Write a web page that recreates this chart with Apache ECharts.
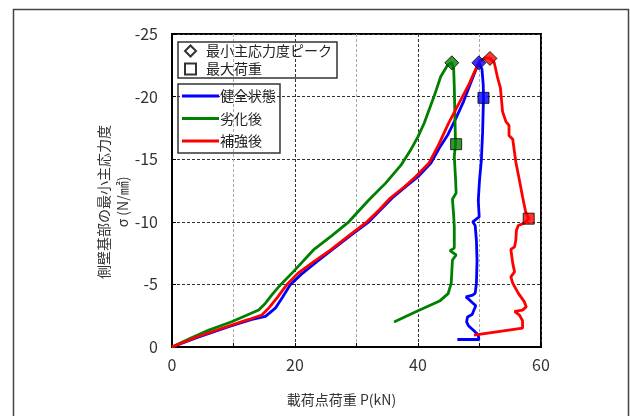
<!DOCTYPE html>
<html>
<head>
<meta charset="utf-8">
<script src="https://cdn.jsdelivr.net/npm/echarts@6/dist/echarts.min.js"></script>
<style>
html,body{margin:0;padding:0;background:#fff;}
#chart{width:630px;height:416px;}
</style>
</head>
<body>
<div id="chart"></div>
<script>
// ---- data (P [kN], σ [N/mm²]) ----
var xTicks = [0, 20, 40, 60];
var yTicks = [-25, -20, -15, -10, -5, 0];

var seriesNames = ['健全状態', '劣化後', '補強後'];
var markerNames = ['最小主応力度ピーク', '最大荷重'];

var blueRise = [[0,0],[4,-0.75],[9.7,-1.7],[13,-2.2],[15.2,-2.45],[16.8,-3.1],[18,-4.0],[19.2,-4.95],[21,-5.8],[23.5,-6.8],[26,-7.75],[29,-8.9],[32,-10.0],[34,-11.0],[35.8,-11.9],[38,-12.8],[40,-13.6],[42.1,-14.7],[43.6,-16.0],[44.9,-17.0],[46.2,-18.3],[47.4,-19.6],[48.5,-21.0],[49.3,-22.0],[49.9,-22.7]];
var blueFall = [[50.4,-22.2],[50.6,-21.0],[50.65,-19.9],[50.5,-17.1],[50.3,-14.9],[50.0,-13.3],[49.8,-11.7],[49.95,-10.4],[48.9,-10.0],[49.3,-9.7],[49.5,-8.5],[49.6,-6.9],[49.5,-5.1],[49.3,-4.3],[48.9,-4.15],[47.8,-4.0],[48.5,-3.7],[49.4,-3.3],[49.1,-2.96],[48.8,-2.6],[48.05,-2.4],[47.9,-2.0],[48.2,-1.7],[49.1,-1.3],[49.8,-0.95],[49.9,-0.6],[46.4,-0.6]];

var greenRise = [[0,0],[3,-0.7],[6,-1.35],[9.7,-2.02],[14.1,-2.96],[15.2,-3.5],[16.3,-4.2],[17.7,-5.0],[19.7,-6.0],[23,-7.75],[26,-8.9],[28.75,-10.0],[32,-11.74],[34.7,-13.07],[37.2,-14.5],[38.8,-15.73],[40,-16.8],[41,-17.87],[42.6,-20.0],[43.7,-21.6],[44.8,-22.5],[45.5,-22.7]];
var greenFall = [[45.8,-22.2],[45.9,-20.8],[46.0,-18.5],[46.1,-16.2],[45.9,-15.2],[46.1,-13.5],[46.2,-12.3],[45.6,-11.8],[45.8,-10.5],[45.9,-9.6],[45.9,-7.9],[45.2,-7.7],[46.2,-7.35],[45.6,-6.95],[45.4,-5.1],[44.9,-4.26],[43.6,-3.7],[40,-2.9],[36.1,-2.0]];

var redRise = [[0,0],[4,-0.8],[9.7,-1.76],[12.5,-2.2],[14.6,-2.56],[15.7,-3.09],[17.2,-4.0],[18.7,-5.0],[20.5,-5.9],[23,-6.8],[25.8,-7.75],[28.5,-8.8],[31.7,-10.0],[33.8,-11.0],[35.5,-11.9],[37.8,-12.8],[39.6,-13.6],[41.8,-14.7],[43.3,-16.1],[45.0,-17.9],[46.7,-19.5],[48.3,-21.0],[49.2,-22.0],[50.0,-22.8],[51.0,-23.1],[51.7,-23.05]];
var redFall = [[52.4,-22.7],[52.9,-21.6],[53.4,-20.7],[53.75,-18.8],[54.3,-18.0],[54.8,-17.7],[54.8,-16.9],[55.4,-16.6],[55.9,-14.8],[56.5,-13.3],[57.0,-12.0],[57.5,-10.8],[58.0,-10.25],[57.3,-9.9],[56.3,-9.7],[56.0,-9.3],[55.9,-8.5],[55.7,-8.0],[55.1,-7.8],[55.4,-6.7],[55.7,-6.0],[55.1,-5.6],[55.4,-5.1],[56.3,-4.3],[57.3,-3.6],[57.6,-3.2],[57.0,-2.95],[55.7,-2.85],[56.5,-2.55],[57.0,-2.1],[57.0,-1.5],[56.7,-1.45],[49.1,-0.95]];

var peakPoints = [[49.9,-22.7],[45.5,-22.7],[51.7,-23.05]];
var maxLoadPoints = [[50.65,-19.9],[46.2,-16.2],[58.0,-10.25]];
var colors = ['#0000ff', '#008000', '#ff0000'];

// ---- chart ----
var chart = echarts.init(document.getElementById('chart'));
var tickFont = "'Liberation Sans Narrow', 'Noto Sans CJK JP', sans-serif";
var jpFont = "'Noto Sans CJK JP', sans-serif";

function markerData(points) {
  return points.map(function (p, i) {
    return { value: p, itemStyle: { color: colors[i], borderColor: '#000', borderWidth: 1 } };
  });
}

var option = {
  animation: false,
  backgroundColor: '#fff',
  graphic: [{
    type: 'rect',
    shape: { x: 13.5, y: 9.5, width: 615, height: 430 },
    style: { fill: 'none', stroke: '#444', lineWidth: 1.5 },
    silent: true
  }],
  grid: {
    left: 172, top: 34, width: 369, height: 313,
    show: true, borderColor: '#000', borderWidth: 2, backgroundColor: 'transparent'
  },
  legend: [{
    left: 178, top: 42,
    orient: 'vertical',
    data: [{ name: markerNames[0], icon: 'diamond' }, { name: markerNames[1], icon: 'rect' }],
    itemWidth: 11, itemHeight: 11, itemGap: 2,
    padding: [1, 5, 1, 6],
    borderColor: '#333', borderWidth: 1.5,
    textStyle: { fontFamily: jpFont, fontSize: 14, color: '#222', lineHeight: 16, padding: [0, 0, 0, 5] },
    selectedMode: false
  }, {
    left: 178, top: 84,
    orient: 'vertical',
    data: seriesNames.map(function (n) { return { name: n, icon: 'rect' }; }),
    itemWidth: 37, itemHeight: 3, itemGap: 6.5,
    padding: [4, 4, 4, 4],
    borderColor: '#333', borderWidth: 1.5,
    textStyle: { fontFamily: jpFont, fontSize: 14, color: '#222', lineHeight: 16, padding: [0, 0, 0, -4] },
    selectedMode: false
  }],
  xAxis: {
    type: 'value', min: 0, max: 60, interval: 10,
    name: '載荷点荷重 P(kN)', nameLocation: 'middle', nameGap: 46,
    nameTextStyle: { fontFamily: jpFont, fontSize: 14, color: '#333', padding: [0, 30, 0, 0] },
    axisLine: { show: true, lineStyle: { color: '#000', width: 2 } },
    axisTick: { show: true, inside: true, length: 4, lineStyle: { color: '#000' } },
    axisLabel: {
      margin: 10, fontFamily: tickFont, fontSize: 16, color: '#333',
      formatter: function (v) { return xTicks.indexOf(v) >= 0 ? String(v) : ''; }
    },
    splitLine: { show: true, lineStyle: { color: ['#333', '#aaa'], type: [3, 2], width: 1 } }
  },
  yAxis: {
    type: 'value', min: -25, max: 0, interval: 5, inverse: true,
    name: '側壁基部の最小主応力度\nσ (N/㎟)', nameLocation: 'middle', nameGap: 40, nameRotate: 90,
    nameMoveOverlap: false,
    nameTextStyle: { fontFamily: jpFont, fontSize: 14, color: '#333', lineHeight: 19, padding: [0, 23, 0, 0] },
    axisLine: { show: true, lineStyle: { color: '#000', width: 2 } },
    axisTick: { show: true, inside: true, length: 4, lineStyle: { color: '#000' } },
    axisLabel: {
      margin: 14, fontFamily: tickFont, fontSize: 16, color: '#333',
      formatter: function (v) { return yTicks.indexOf(v) >= 0 ? String(v) : ''; }
    },
    splitLine: { show: true, lineStyle: { color: '#333', type: [3, 2], width: 1 } }
  },
  series: [
    { name: seriesNames[0], type: 'line', data: blueRise.concat(blueFall), showSymbol: false, symbol: 'none',
      lineStyle: { color: colors[0], width: 2.8 }, itemStyle: { color: colors[0] }, z: 2 },
    { name: seriesNames[1], type: 'line', data: greenRise.concat(greenFall), showSymbol: false, symbol: 'none',
      lineStyle: { color: colors[1], width: 2.8 }, itemStyle: { color: colors[1] }, z: 2 },
    { name: seriesNames[2], type: 'line', data: redRise.concat(redFall), showSymbol: false, symbol: 'none',
      lineStyle: { color: colors[2], width: 2.8 }, itemStyle: { color: colors[2] }, z: 2 },
    { name: markerNames[0], type: 'scatter', symbol: 'diamond', symbolSize: [14, 14],
      itemStyle: { color: '#fff', borderColor: '#000', borderWidth: 1 },
      data: markerData(peakPoints), z: 5 },
    { name: markerNames[1], type: 'scatter', symbol: 'rect', symbolSize: 11,
      itemStyle: { color: '#fff', borderColor: '#000', borderWidth: 1 },
      data: markerData(maxLoadPoints), z: 5 }
  ]
};
chart.setOption(option);
</script>
</body>
</html>
